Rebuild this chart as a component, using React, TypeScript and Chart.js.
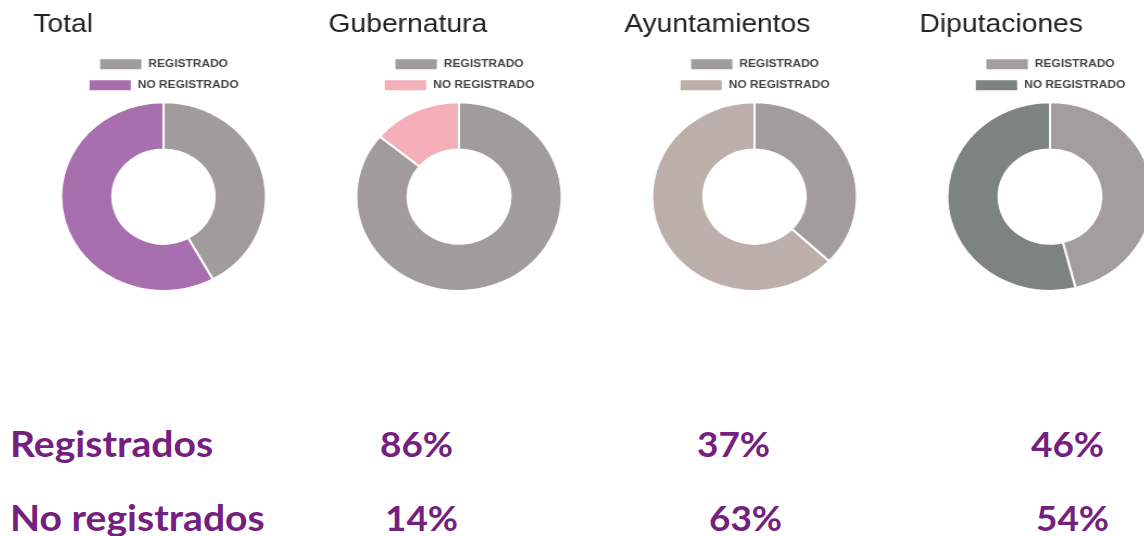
import React, { useEffect, useRef } from "react";
import { Chart, registerables } from "chart.js";

Chart.register(...registerables);

const categories = ["Total", "Gubernatura", "Ayuntamientos", "Diputaciones"];
const legendLabels = ["REGISTRADO", "NO REGISTRADO"];
const registrado = [42, 86, 37, 46];
const noRegistrado = [58, 14, 63, 54];
const registradoColors = ["#a09c9b", "#a09c9b", "#a19d9c", "#a39e9d"];
const noRegistradoColors = ["#a86fae", "#f4afb8", "#bcaeaa", "#7d8480"];
const rowLabels = ["Registrados", "No registrados"];
const percentPanels = [1, 2, 3];

const STRETCH = 295.5 / 272;
const CANVAS_W = 272;
const CANVAS_H = 292;
const PANEL_X0 = 15.6;
const PANEL_PITCH = 295.5;

const pctLeft = [
  [380, 697, 1031],
  [385, 709, 1036],
];
const rowBaseline = [457, 531];
const LABEL_SIZE = 36;
const PCT_SIZE = 34;
const PURPLE = "#74207f";

function Donut({ index }: { index: number }) {
  const ref = useRef<HTMLCanvasElement | null>(null);
  useEffect(() => {
    if (!ref.current) return;
    const chart = new Chart(ref.current, {
      type: "doughnut",
      data: {
        labels: legendLabels,
        datasets: [
          {
            data: [registrado[index], noRegistrado[index]],
            backgroundColor: [registradoColors[index], noRegistradoColors[index]],
            borderColor: "#ffffff",
            borderWidth: 2,
          },
        ],
      },
      options: {
        animation: false,
        responsive: false,
        devicePixelRatio: 1,
        cutout: "50%",
        layout: { padding: { left: 16, right: 16, top: 0, bottom: 0 } },
        plugins: {
          title: {
            display: true,
            text: categories[index],
            align: "start",
            color: "#222222",
            font: { family: "'Liberation Sans', Arial, sans-serif", size: 26, weight: "normal" },
            padding: { top: 9, bottom: 9 },
          },
          legend: {
            position: "top",
            labels: {
              boxWidth: 40,
              boxHeight: 12,
              color: "#444444",
              padding: 9,
              font: { family: "'Liberation Sans', Arial, sans-serif", size: 11, weight: "bold" },
            },
          },
          tooltip: { enabled: false },
        },
      },
    });
    return () => chart.destroy();
  }, [index]);
  return (
    <canvas
      ref={ref}
      width={CANVAS_W}
      height={CANVAS_H}
      style={{
        position: "absolute",
        left: PANEL_X0 + index * PANEL_PITCH,
        top: 0,
        width: CANVAS_W * STRETCH + "px",
        height: CANVAS_H + "px",
      }}
    />
  );
}

function Label({ text, left, baseline, size }: { text: string; left: number; baseline: number; size: number }) {
  return (
    <div
      style={{
        position: "absolute",
        left,
        top: baseline - size * 0.887,
        fontFamily: "Lato, 'Open Sans', sans-serif",
        fontWeight: 700,
        fontSize: size,
        lineHeight: 1,
        color: PURPLE,
        whiteSpace: "nowrap",
        transform: `scaleX(${STRETCH})`,
        transformOrigin: "left top",
      }}
    >
      {text}
    </div>
  );
}

export default function App() {
  return (
    <div
      style={{
        position: "fixed",
        left: 0,
        top: 0,
        width: 1144,
        height: 536,
        overflow: "hidden",
        background: "#ffffff",
      }}
    >
      {categories.map((_, i) => (
        <Donut key={i} index={i} />
      ))}
      {rowLabels.map((label, r) => (
        <React.Fragment key={label}>
          <Label text={label} left={10} baseline={rowBaseline[r]} size={LABEL_SIZE} />
          {percentPanels.map((p, k) => (
            <Label
              key={p}
              text={(r === 0 ? registrado[p] : noRegistrado[p]) + "%"}
              left={pctLeft[r][k]}
              baseline={rowBaseline[r]}
              size={PCT_SIZE}
            />
          ))}
        </React.Fragment>
      ))}
    </div>
  );
}
